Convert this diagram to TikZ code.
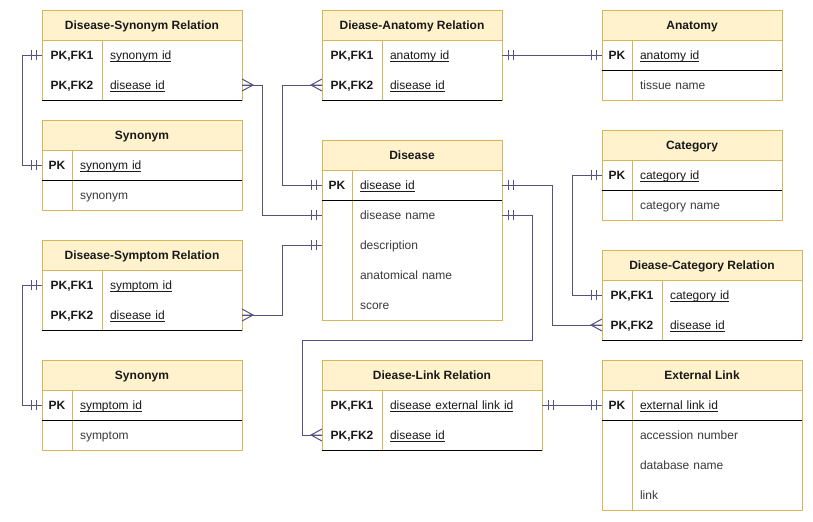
\documentclass[tikz,border=0pt]{standalone}
\usepackage{fontspec}
\setmainfont{Liberation Sans}
\usepackage{tikz}
\newcommand{\pkul}[1]{\setbox0\hbox{#1}\rlap{\rule[-1.6pt]{\wd0}{0.55pt}}\box0}
\definecolor{hdrfill}{HTML}{FFF2CC}
\definecolor{hdrdraw}{HTML}{D6B656}
\definecolor{erblue}{HTML}{56517E}
\definecolor{fieldgray}{HTML}{3A3A3A}
\tikzset{
  tblhead/.style={draw=hdrdraw, fill=hdrfill, line width=0.75pt, anchor=north west, minimum height=22.5pt, inner sep=0pt, outer sep=0pt, font=\fontsize{9pt}{11pt}\selectfont\bfseries, text=black!90, text height=8.4pt, text depth=2pt},
  tblbody/.style={draw=hdrdraw, fill=white, line width=0.75pt, anchor=north west, inner sep=0pt, outer sep=0pt},
  keytxt/.style={anchor=north west, minimum width=#1, minimum height=22.5pt, inner sep=0pt, outer sep=0pt, font=\fontsize{9pt}{11pt}\selectfont\bfseries, text=black!90, text height=8.4pt, text depth=2pt},
  valtxt/.style={anchor=north west, text width=#1, minimum height=22.5pt, inner xsep=6pt, inner ysep=0pt, outer sep=0pt, align=left, font=\fontsize{9pt}{11pt}\selectfont, text=black!90, text height=8.4pt, text depth=2pt},
  fieldtxt/.style={valtxt=#1, text=fieldgray},
  colline/.style={draw=hdrdraw, line width=0.75pt},
  sepline/.style={draw=black, line width=0.75pt},
  erline/.style={draw=erblue, line width=0.75pt},
  mandone/.pic={\draw[erline] (-6,-5) -- (-6,5) (-11,-5) -- (-11,5);},
  crowfoot/.pic={\draw[erline] (0,-6) -- (-11,0) -- (0,6) (-11,0) -- (0,0);}
}
\begin{document}
\begin{tikzpicture}[x=0.75pt, y=-0.75pt]
  \useasboundingbox (0,0) rectangle (813,521);

  % Disease-Synonym Relation
  \node[tblhead, minimum width=150pt] (dsr) at (42,10) {Disease-Synonym Relation};
  \node[tblbody, minimum width=150pt, minimum height=45pt] (dsr-b) at (dsr.south west) {};
  \node[keytxt=45pt] (dsr-k1) at (dsr.south west) {PK,FK1};
  \node[valtxt=93pt] (dsr-v1) at (dsr-k1.north east) {\pkul{synonym id}};
  \node[keytxt=45pt] (dsr-k2) at (dsr-k1.south west) {PK,FK2};
  \node[valtxt=93pt] (dsr-v2) at (dsr-k2.north east) {\pkul{disease id}};
  \draw[colline] (dsr-k1.north east) -- (dsr-k2.south east);
  \draw[sepline] (dsr-b.south west) -- (dsr-b.south east);

  % Synonym
  \node[tblhead, minimum width=150pt] (syn) at (42,120) {Synonym};
  \node[tblbody, minimum width=150pt, minimum height=45pt] (syn-b) at (syn.south west) {};
  \node[keytxt=22.5pt] (syn-k1) at (syn.south west) {PK};
  \node[valtxt=115.5pt] (syn-v1) at (syn-k1.north east) {\pkul{synonym id}};
  \node[keytxt=22.5pt] (syn-k2) at (syn-k1.south west) {};
  \node[fieldtxt=115.5pt] (syn-v2) at (syn-k2.north east) {synonym};
  \draw[colline] (syn-k1.north east) -- (syn-k2.south east);
  \draw[sepline] (syn-k1.south west) -- (syn-v1.south east);

  % Disease-Symptom Relation
  \node[tblhead, minimum width=150pt] (dsy) at (42,240) {Disease-Symptom Relation};
  \node[tblbody, minimum width=150pt, minimum height=45pt] (dsy-b) at (dsy.south west) {};
  \node[keytxt=45pt] (dsy-k1) at (dsy.south west) {PK,FK1};
  \node[valtxt=93pt] (dsy-v1) at (dsy-k1.north east) {\pkul{symptom id}};
  \node[keytxt=45pt] (dsy-k2) at (dsy-k1.south west) {PK,FK2};
  \node[valtxt=93pt] (dsy-v2) at (dsy-k2.north east) {\pkul{disease id}};
  \draw[colline] (dsy-k1.north east) -- (dsy-k2.south east);
  \draw[sepline] (dsy-b.south west) -- (dsy-b.south east);

  % Synonym (symptom)
  \node[tblhead, minimum width=150pt] (sym) at (42,360) {Synonym};
  \node[tblbody, minimum width=150pt, minimum height=45pt] (sym-b) at (sym.south west) {};
  \node[keytxt=22.5pt] (sym-k1) at (sym.south west) {PK};
  \node[valtxt=115.5pt] (sym-v1) at (sym-k1.north east) {\pkul{symptom id}};
  \node[keytxt=22.5pt] (sym-k2) at (sym-k1.south west) {};
  \node[fieldtxt=115.5pt] (sym-v2) at (sym-k2.north east) {symptom};
  \draw[colline] (sym-k1.north east) -- (sym-k2.south east);
  \draw[sepline] (sym-k1.south west) -- (sym-v1.south east);

  % Diease-Anatomy Relation
  \node[tblhead, minimum width=135pt] (dar) at (322,10) {Diease-Anatomy Relation};
  \node[tblbody, minimum width=135pt, minimum height=45pt] (dar-b) at (dar.south west) {};
  \node[keytxt=45pt] (dar-k1) at (dar.south west) {PK,FK1};
  \node[valtxt=78pt] (dar-v1) at (dar-k1.north east) {\pkul{anatomy id}};
  \node[keytxt=45pt] (dar-k2) at (dar-k1.south west) {PK,FK2};
  \node[valtxt=78pt] (dar-v2) at (dar-k2.north east) {\pkul{disease id}};
  \draw[colline] (dar-k1.north east) -- (dar-k2.south east);
  \draw[sepline] (dar-b.south west) -- (dar-b.south east);

  % Disease
  \node[tblhead, minimum width=135pt] (dis) at (322,140) {Disease};
  \node[tblbody, minimum width=135pt, minimum height=112.5pt] (dis-b) at (dis.south west) {};
  \node[keytxt=22.5pt] (dis-k1) at (dis.south west) {PK};
  \node[valtxt=100.5pt] (dis-v1) at (dis-k1.north east) {\pkul{disease id}};
  \node[keytxt=22.5pt] (dis-k2) at (dis-k1.south west) {};
  \node[fieldtxt=100.5pt] (dis-v2) at (dis-k2.north east) {disease name};
  \node[keytxt=22.5pt] (dis-k3) at (dis-k2.south west) {};
  \node[fieldtxt=100.5pt] (dis-v3) at (dis-k3.north east) {description};
  \node[keytxt=22.5pt] (dis-k4) at (dis-k3.south west) {};
  \node[fieldtxt=100.5pt] (dis-v4) at (dis-k4.north east) {anatomical name};
  \node[keytxt=22.5pt] (dis-k5) at (dis-k4.south west) {};
  \node[fieldtxt=100.5pt] (dis-v5) at (dis-k5.north east) {score};
  \draw[colline] (dis-k1.north east) -- (dis-k5.south east);
  \draw[sepline] (dis-k1.south west) -- (dis-v1.south east);

  % Diease-Link Relation
  \node[tblhead, minimum width=165pt] (dlr) at (322,360) {Diease-Link Relation};
  \node[tblbody, minimum width=165pt, minimum height=45pt] (dlr-b) at (dlr.south west) {};
  \node[keytxt=45pt] (dlr-k1) at (dlr.south west) {PK,FK1};
  \node[valtxt=108pt] (dlr-v1) at (dlr-k1.north east) {\pkul{disease external link id}};
  \node[keytxt=45pt] (dlr-k2) at (dlr-k1.south west) {PK,FK2};
  \node[valtxt=108pt] (dlr-v2) at (dlr-k2.north east) {\pkul{disease id}};
  \draw[colline] (dlr-k1.north east) -- (dlr-k2.south east);
  \draw[sepline] (dlr-b.south west) -- (dlr-b.south east);

  % Anatomy
  \node[tblhead, minimum width=135pt] (ana) at (602,10) {Anatomy};
  \node[tblbody, minimum width=135pt, minimum height=45pt] (ana-b) at (ana.south west) {};
  \node[keytxt=22.5pt] (ana-k1) at (ana.south west) {PK};
  \node[valtxt=100.5pt] (ana-v1) at (ana-k1.north east) {\pkul{anatomy id}};
  \node[keytxt=22.5pt] (ana-k2) at (ana-k1.south west) {};
  \node[fieldtxt=100.5pt] (ana-v2) at (ana-k2.north east) {tissue name};
  \draw[colline] (ana-k1.north east) -- (ana-k2.south east);
  \draw[sepline] (ana-k1.south west) -- (ana-v1.south east);

  % Category
  \node[tblhead, minimum width=135pt] (cat) at (602,130) {Category};
  \node[tblbody, minimum width=135pt, minimum height=45pt] (cat-b) at (cat.south west) {};
  \node[keytxt=22.5pt] (cat-k1) at (cat.south west) {PK};
  \node[valtxt=100.5pt] (cat-v1) at (cat-k1.north east) {\pkul{category id}};
  \node[keytxt=22.5pt] (cat-k2) at (cat-k1.south west) {};
  \node[fieldtxt=100.5pt] (cat-v2) at (cat-k2.north east) {category name};
  \draw[colline] (cat-k1.north east) -- (cat-k2.south east);
  \draw[sepline] (cat-k1.south west) -- (cat-v1.south east);

  % Diease-Category Relation
  \node[tblhead, minimum width=150pt] (dcr) at (602,250) {Diease-Category Relation};
  \node[tblbody, minimum width=150pt, minimum height=45pt] (dcr-b) at (dcr.south west) {};
  \node[keytxt=45pt] (dcr-k1) at (dcr.south west) {PK,FK1};
  \node[valtxt=93pt] (dcr-v1) at (dcr-k1.north east) {\pkul{category id}};
  \node[keytxt=45pt] (dcr-k2) at (dcr-k1.south west) {PK,FK2};
  \node[valtxt=93pt] (dcr-v2) at (dcr-k2.north east) {\pkul{disease id}};
  \draw[colline] (dcr-k1.north east) -- (dcr-k2.south east);
  \draw[sepline] (dcr-b.south west) -- (dcr-b.south east);

  % External Link
  \node[tblhead, minimum width=150pt] (ext) at (602,360) {External Link};
  \node[tblbody, minimum width=150pt, minimum height=90pt] (ext-b) at (ext.south west) {};
  \node[keytxt=22.5pt] (ext-k1) at (ext.south west) {PK};
  \node[valtxt=115.5pt] (ext-v1) at (ext-k1.north east) {\pkul{external link id}};
  \node[keytxt=22.5pt] (ext-k2) at (ext-k1.south west) {};
  \node[fieldtxt=115.5pt] (ext-v2) at (ext-k2.north east) {accession number};
  \node[keytxt=22.5pt] (ext-k3) at (ext-k2.south west) {};
  \node[fieldtxt=115.5pt] (ext-v3) at (ext-k3.north east) {database name};
  \node[keytxt=22.5pt] (ext-k4) at (ext-k3.south west) {};
  \node[fieldtxt=115.5pt] (ext-v4) at (ext-k4.north east) {link};
  \draw[colline] (ext-k1.north east) -- (ext-k4.south east);
  \draw[sepline] (ext-k1.south west) -- (ext-v1.south east);

  % relations
  \draw[erline] (dsr-k1.west) pic{mandone} -- ++(-20,0) |- (syn-k1.west) pic{mandone};
  \draw[erline] (dsr-v2.east) pic[rotate=180]{crowfoot} -- ++(20,0) |- (dis-k2.west) pic{mandone};
  \draw[erline] (dar-k2.west) pic{crowfoot} -- ++(-40,0) |- (dis-k1.west) pic{mandone};
  \draw[erline] (dar-v1.east) pic[rotate=180]{mandone} -- (ana-k1.west) pic{mandone};
  \draw[erline] (dsy-v2.east) pic[rotate=180]{crowfoot} -- ++(40,0) |- (dis-k3.west) pic{mandone};
  \draw[erline] (dsy-k1.west) pic{mandone} -- ++(-20,0) |- (sym-k1.west) pic{mandone};
  \draw[erline] (dis-v1.east) pic[rotate=180]{mandone} -- ++(50,0) |- (dcr-k2.west) pic{crowfoot};
  \draw[erline] (dis-v2.east) pic[rotate=180]{mandone} -- ++(30,0) -- ++(0,125) -- ++(-230,0) |- (dlr-k2.west) pic{crowfoot};
  \draw[erline] (cat-k1.west) pic{mandone} -- ++(-30,0) |- (dcr-k1.west) pic{mandone};
  \draw[erline] (dlr-v1.east) pic[rotate=180]{mandone} -- (ext-k1.west) pic{mandone};
\end{tikzpicture}
\end{document}
